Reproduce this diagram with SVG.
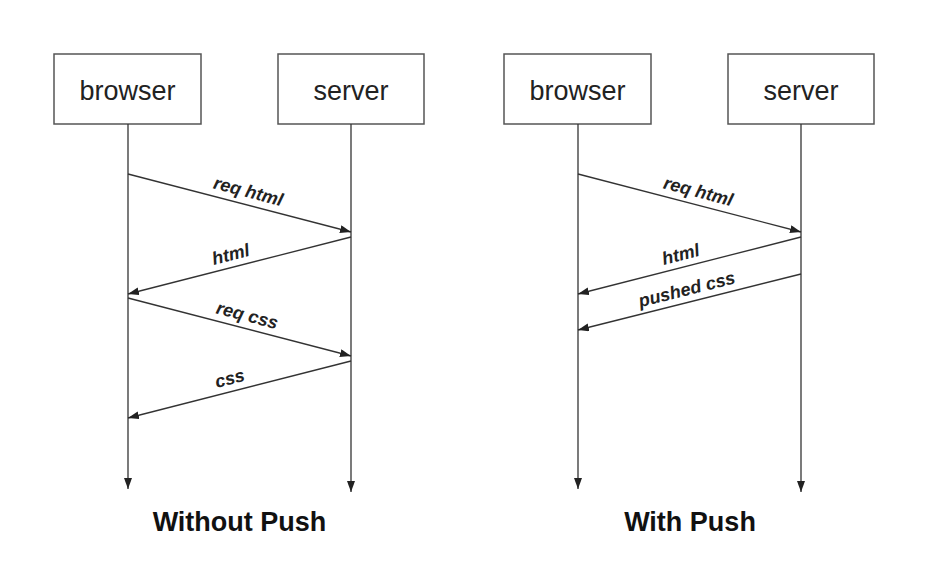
<svg xmlns="http://www.w3.org/2000/svg" width="946" height="579" viewBox="0 0 946 579">
<style>
.box{fill:#fff;stroke:#555;stroke-width:1.5}
.nt{font-family:"Liberation Sans",Arial,sans-serif;font-size:27px;fill:#222;text-anchor:middle}
.ln{stroke:#333;stroke-width:1.3;fill:none;marker-end:url(#ah)}
.lb{font-family:"Liberation Sans",Arial,sans-serif;font-size:18px;font-weight:bold;font-style:italic;fill:#222;text-anchor:middle}
.tt{font-family:"Liberation Sans",Arial,sans-serif;font-size:27px;font-weight:bold;fill:#111;text-anchor:middle}
</style>
<defs>
<marker id="ah" markerUnits="userSpaceOnUse" markerWidth="12" markerHeight="8" refX="11" refY="4" orient="auto">
<path d="M0,0 L11,4 L0,8 Z" fill="#222"/>
</marker>
</defs>
<rect width="946" height="579" fill="#fff"/>
<g id="browser1"><rect class="box" x="54" y="54" width="147" height="70"/><text class="nt" x="127.5" y="100">browser</text></g>
<g id="server1"><rect class="box" x="278" y="54" width="146" height="70"/><text class="nt" x="351" y="100">server</text></g>
<g id="browser2"><rect class="box" x="504" y="54" width="147" height="70"/><text class="nt" x="577.5" y="100">browser</text></g>
<g id="server2"><rect class="box" x="728" y="54" width="146" height="70"/><text class="nt" x="801" y="100">server</text></g>
<g id="connectors">
<line class="ln" x1="128" y1="124" x2="128" y2="489"/>
<line class="ln" x1="351" y1="124" x2="351" y2="492"/>
<line class="ln" x1="578" y1="124" x2="578" y2="489"/>
<line class="ln" x1="801" y1="124" x2="801" y2="492"/>
<line class="ln" x1="128" y1="174" x2="351" y2="232"/>
<line class="ln" x1="351" y1="237" x2="128" y2="294"/>
<line class="ln" x1="128" y1="298" x2="351" y2="356"/>
<line class="ln" x1="351" y1="361" x2="128" y2="418"/>
<line class="ln" x1="578" y1="174" x2="801" y2="232"/>
<line class="ln" x1="801" y1="237" x2="578" y2="294"/>
<line class="ln" x1="801" y1="274" x2="578" y2="330"/>
</g>
<g id="labels">
<text class="lb" transform="translate(245,204) rotate(14.6)" x="0" y="-7">req html</text>
<text class="lb" transform="translate(234,267) rotate(-14.3)" x="0" y="-7">html</text>
<text class="lb" transform="translate(244,328) rotate(14.6)" x="0" y="-7">req css</text>
<text class="lb" transform="translate(233,391) rotate(-14.3)" x="0" y="-7">css</text>
<text class="lb" transform="translate(695,204) rotate(14.6)" x="0" y="-7">req html</text>
<text class="lb" transform="translate(684,267) rotate(-14.3)" x="0" y="-7">html</text>
<text class="lb" transform="translate(690,302) rotate(-14.1)" x="0" y="-7">pushed css</text>
</g>
<text class="tt" x="239.5" y="531">Without Push</text>
<text class="tt" x="690" y="531">With Push</text>
</svg>
